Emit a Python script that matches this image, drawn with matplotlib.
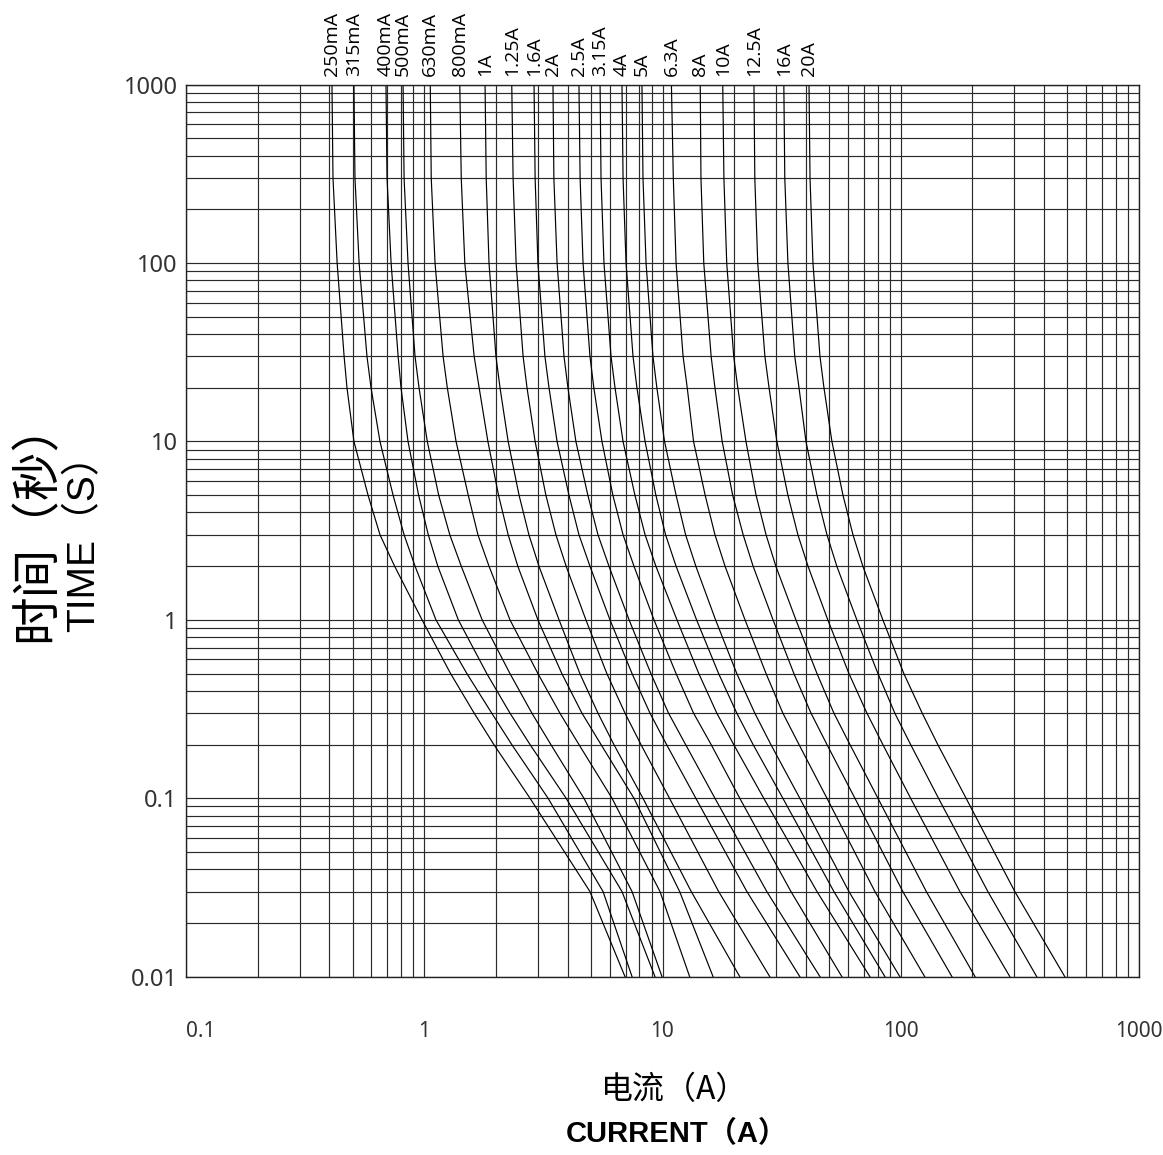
import matplotlib
matplotlib.use("Agg")
import matplotlib.pyplot as plt

# fuse ratings (labels along the top of the chart)
ratings = ["250mA", "315mA", "400mA", "500mA", "630mA", "800mA", "1A", "1.25A",
           "1.6A", "2A", "2.5A", "3.15A", "4A", "5A", "6.3A", "8A", "10A",
           "12.5A", "16A", "20A"]

times = [1000, 300, 100, 30, 20, 10, 5, 3, 2, 1, 0.5, 0.3, 0.2, 0.1, 0.03, 0.01]

# current (A) of each rating's curve at each time level
i_1000s = [0.410, 0.507, 0.691, 0.815, 1.06, 1.41, 1.80, 2.33, 2.89, 3.47,
           4.46, 5.47, 6.76, 8.20, 10.9, 14.4, 17.9, 24.2, 32.3, 41.2]
i_300s = [0.414, 0.512, 0.698, 0.823, 1.07, 1.43, 1.82, 2.36, 2.92, 3.50,
          4.51, 5.52, 6.83, 8.28, 11.1, 14.5, 18.1, 24.4, 32.6, 41.6]
i_100s = [0.431, 0.533, 0.726, 0.855, 1.11, 1.48, 1.87, 2.43, 3.00, 3.61,
          4.64, 5.68, 7.03, 8.53, 11.4, 14.9, 18.6, 25.1, 33.6, 42.8]
i_30s = [0.461, 0.575, 0.777, 0.915, 1.20, 1.62, 2.00, 2.60, 3.21, 3.86,
         4.96, 6.08, 7.52, 9.12, 12.2, 16.0, 19.9, 26.9, 35.9, 45.8]
i_20s = [0.474, 0.598, 0.799, 0.951, 1.25, 1.70, 2.08, 2.70, 3.34, 4.01,
         5.15, 6.32, 7.81, 9.47, 12.7, 16.6, 20.7, 28.0, 37.4, 47.6]
i_10s = [0.507, 0.652, 0.855, 1.03, 1.36, 1.85, 2.25, 2.92, 3.61, 4.33,
         5.57, 6.83, 8.45, 10.2, 13.5, 17.8, 22.4, 30.2, 40.0, 51.4]
i_5s = [0.581, 0.740, 0.947, 1.15, 1.53, 2.05, 2.50, 3.24, 4.05, 4.86,
        6.19, 7.66, 9.38, 11.4, 15.1, 19.7, 24.7, 33.6, 44.5, 57.2]
i_3s = [0.652, 0.823, 1.04, 1.28, 1.68, 2.25, 2.75, 3.57, 4.46, 5.36,
        6.83, 8.45, 10.3, 12.5, 16.6, 21.8, 27.2, 37.0, 49.0, 63.0]
i_2s = [0.751, 0.915, 1.14, 1.43, 1.87, 2.47, 3.03, 3.94, 4.96, 5.96,
        7.59, 9.38, 11.4, 13.8, 18.3, 24.0, 29.9, 40.8, 53.9, 69.3]
i_1s = [0.979, 1.12, 1.39, 1.75, 2.29, 3.00, 3.68, 4.77, 6.02, 7.24,
        9.21, 11.5, 13.9, 16.7, 22.2, 29.1, 36.3, 49.4, 65.4, 84.1]
i_05s = [1.29, 1.51, 1.83, 2.29, 3.00, 3.78, 4.50, 5.84, 7.45, 8.94,
         11.4, 14.2, 17.2, 20.5, 27.2, 35.6, 44.5, 60.6, 80.2, 103]
i_03s = [1.62, 1.92, 2.29, 2.83, 3.71, 4.59, 5.36, 6.96, 8.86, 10.6,
         13.5, 16.9, 20.5, 24.4, 32.0, 42.0, 52.4, 72.1, 94.4, 123]
i_02s = [1.96, 2.33, 2.78, 3.40, 4.46, 5.52, 6.25, 8.12, 10.4, 12.5,
         16.0, 19.9, 24.0, 28.5, 37.4, 49.0, 61.2, 84.1, 110, 143]
i_01s = [2.78, 3.31, 3.94, 4.68, 6.14, 7.59, 8.28, 10.7, 13.8, 16.6,
         21.1, 26.6, 32.0, 37.7, 49.0, 64.2, 80.2, 110, 144, 188]
i_003s = [4.96, 5.63, 6.76, 7.45, 9.76, 11.8, 13.2, 17.2, 22.6, 27.4,
          34.6, 44.5, 52.4, 60.6, 77.9, 102, 128, 177, 232, 301]
i_001s = [6.96, 7.45, 9.30, 9.95, 13.0, 16.3, 21.1, 28.2, 37.7, 45.8,
          56.6, 74.2, 85.8, 99.1, 126, 164, 205, 287, 372, 488]

x_ticks = [0.1, 1, 10, 100, 1000]
x_ticklabels = ["0.1", "1", "10", "100", "1000"]
y_ticks = [0.01, 0.1, 1, 10, 100, 1000]
y_ticklabels = ["0.01", "0.1", "1", "10", "100", "1000"]

cjk = ["Noto Sans CJK SC", "DejaVu Sans"]
latin_cjk = ["Liberation Sans", "Noto Sans CJK SC"]
thin = ["Noto Sans", "DejaVu Sans"]

fig = plt.figure(figsize=(11.63, 11.55), dpi=100)
ax = fig.add_axes([0.1599, 0.1544, 0.8195, 0.7723])
ax.set_xscale("log")
ax.set_yscale("log")
ax.set_xlim(0.1, 1000)
ax.set_ylim(0.01, 1000)

ax.grid(True, which="both", color="#2b2b2b", linewidth=0.85)
ax.set_axisbelow(True)

levels = [i_1000s, i_300s, i_100s, i_30s, i_20s, i_10s, i_5s, i_3s, i_2s, i_1s,
          i_05s, i_03s, i_02s, i_01s, i_003s, i_001s]
for k in range(len(ratings)):
    cur = [lvl[k] for lvl in levels]
    ax.plot(cur, times, color="black", linewidth=0.85)
    ax.text(i_1000s[k], 1120, ratings[k], rotation=90, ha="center", va="bottom",
            fontsize=14, family=["Open Sans", "DejaVu Sans"], clip_on=False)

ax.tick_params(which="both", length=0)
ax.set_xticks(x_ticks)
ax.set_xticklabels(x_ticklabels, fontsize=15, family=thin, color="#333333")
ax.set_yticks(y_ticks)
ax.set_yticklabels(y_ticklabels, fontsize=17, family=thin, color="#333333")
ax.xaxis.set_minor_formatter(plt.NullFormatter())
ax.yaxis.set_minor_formatter(plt.NullFormatter())
ax.tick_params(axis="x", pad=32)
ax.tick_params(axis="y", pad=6)
ax.get_xticklabels()[0].set_horizontalalignment("left")

for sp in ax.spines.values():
    sp.set_linewidth(1.0)
    sp.set_color("#222222")

# axis titles
fig.text(37 / 1163, 1 - 642 / 1155, "时间（秒）", rotation=90, ha="center", va="bottom",
         fontsize=35, family=cjk)
fig.text(84 / 1163, 1 - 632 / 1155, "TIME（S）", rotation=90, ha="center", va="bottom",
         fontsize=28, family=latin_cjk)
fig.text(601 / 1163, 1 - 1090 / 1155, "电流（A）", ha="left", va="center",
         fontsize=23, family=["Noto Sans CJK SC", "Liberation Sans"])
fig.text(566 / 1163, 1 - 1134 / 1155, "CURRENT（A）", ha="left", va="center",
         fontsize=21, family=latin_cjk, fontweight="bold")

fig.savefig("out.png", dpi=100)
